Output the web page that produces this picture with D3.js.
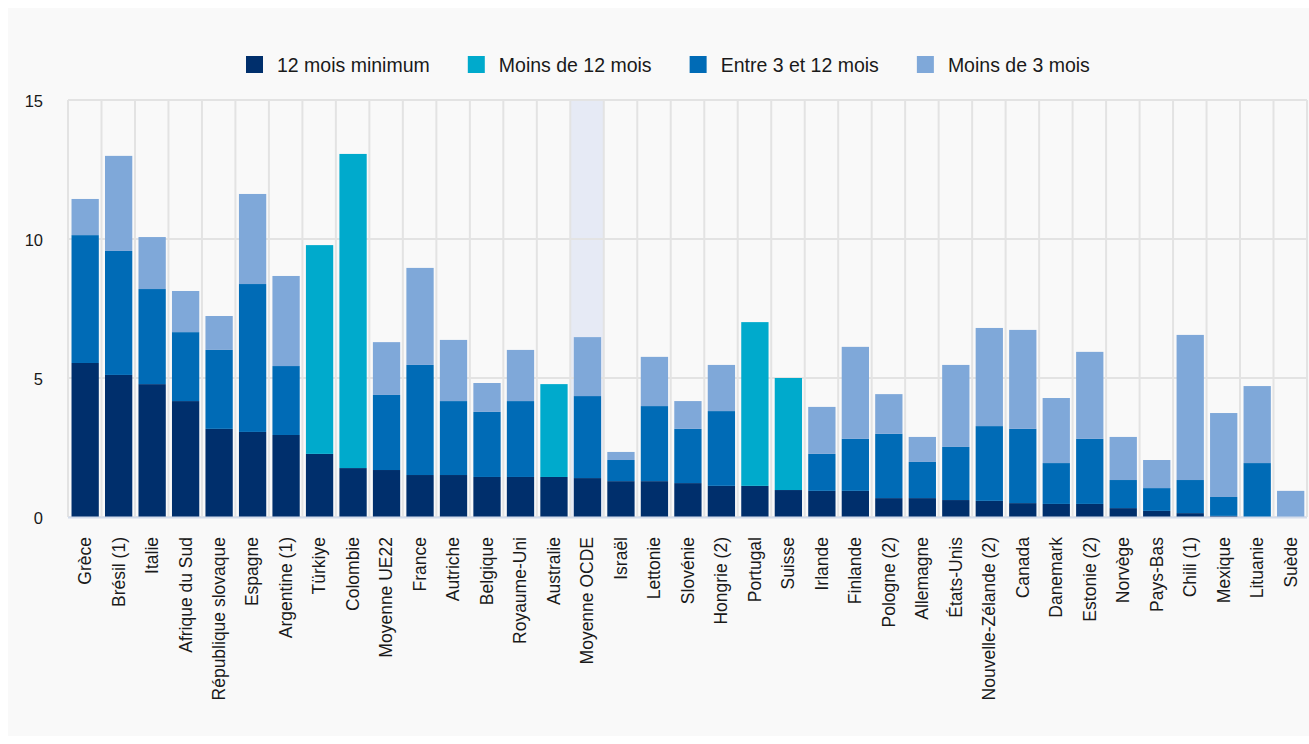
<!DOCTYPE html>
<html lang="fr">
<head>
<meta charset="utf-8">
<script src="https://cdn.jsdelivr.net/npm/d3@7"></script>
<style>
  html, body { margin: 0; padding: 0; background: #ffffff; }
  svg { display: block; font-family: "Liberation Sans", Arial, sans-serif; }
</style>
</head>
<body>
<svg id="chart" width="1309" height="744"></svg>
<script>
// Pays et moyennes, dans l'ordre d'affichage
const categories = [
  "Grèce", "Brésil (1)", "Italie", "Afrique du Sud", "République slovaque",
  "Espagne", "Argentine (1)", "Türkiye", "Colombie", "Moyenne UE22",
  "France", "Autriche", "Belgique", "Royaume-Uni", "Australie",
  "Moyenne OCDE", "Israël", "Lettonie", "Slovénie", "Hongrie (2)",
  "Portugal", "Suisse", "Irlande", "Finlande", "Pologne (2)",
  "Allemagne", "États-Unis", "Nouvelle-Zélande (2)", "Canada", "Danemark",
  "Estonie (2)", "Norvège", "Pays-Bas", "Chili (1)", "Mexique",
  "Lituanie", "Suède"
];

// Durée du chômage, en % de la population active
const douzeMoisMin = [
  5.54, 5.11, 4.78, 4.17, 3.17, 3.06, 2.95, 2.27, 1.76, 1.69,
  1.51, 1.51, 1.44, 1.44, 1.44, 1.40, 1.29, 1.29, 1.22, 1.12,
  1.12, 0.97, 0.94, 0.94, 0.68, 0.68, 0.61, 0.58, 0.50, 0.47,
  0.47, 0.32, 0.22, 0.14, 0.04, 0, 0
];
const moinsDe12Mois = [
  0, 0, 0, 0, 0, 0, 0, 7.51, 11.30, 0,
  0, 0, 0, 0, 3.34, 0, 0, 0, 0, 0,
  5.89, 4.03, 0, 0, 0, 0, 0, 0, 0, 0,
  0, 0, 0, 0, 0, 0, 0
];
const entre3et12Mois = [
  4.60, 4.46, 3.42, 2.48, 2.84, 5.32, 2.48, 0, 0, 2.70,
  3.96, 2.66, 2.34, 2.73, 0, 2.95, 0.76, 2.70, 1.95, 2.69,
  0, 0, 1.33, 1.87, 2.31, 1.30, 1.91, 2.69, 2.67, 1.47,
  2.34, 1.01, 0.82, 1.19, 0.68, 1.94, 0
];
const moinsDe3Mois = [
  1.30, 3.42, 1.87, 1.48, 1.22, 3.24, 3.24, 0, 0, 1.90,
  3.49, 2.20, 1.04, 1.84, 0, 2.12, 0.29, 1.77, 1.00, 1.66,
  0, 0, 1.69, 3.31, 1.43, 0.90, 2.95, 3.53, 3.56, 2.34,
  3.13, 1.55, 1.01, 5.22, 3.02, 2.77, 0.94
];

const yTicks = [0, 5, 10, 15];
const highlighted = "Moyenne OCDE";

const seriesDefs = [
  { key: "douzeMoisMin",   label: "12 mois minimum",  values: douzeMoisMin,   color: "#002F6C" },
  { key: "moinsDe12Mois",  label: "Moins de 12 mois", values: moinsDe12Mois,  color: "#00AACC" },
  { key: "entre3et12Mois", label: "Entre 3 et 12 mois", values: entre3et12Mois, color: "#006BB6" },
  { key: "moinsDe3Mois",   label: "Moins de 3 mois",  values: moinsDe3Mois,   color: "#7FA8D9" }
];

const rows = categories.map((c, i) => {
  const r = { category: c };
  seriesDefs.forEach(s => { r[s.key] = s.values[i]; });
  return r;
});

const svg = d3.select("#chart");
const W = 1309, H = 744;
const plot = { left: 68, right: 1307, top: 100, bottom: 517 };

// Fond de la carte
svg.append("rect")
  .attr("x", 8).attr("y", 8)
  .attr("width", W - 8).attr("height", 728)
  .attr("fill", "#F9F9F9");

const x = d3.scaleBand()
  .domain(categories)
  .range([plot.left, plot.right])
  .padding(0);

const y = d3.scaleLinear()
  .domain([0, 15])
  .range([plot.bottom, plot.top]);

// Bande de mise en évidence
svg.append("rect")
  .attr("x", x(highlighted))
  .attr("y", plot.top)
  .attr("width", x.bandwidth())
  .attr("height", plot.bottom - plot.top)
  .attr("fill", "#E6EAF5");

// Quadrillage horizontal
const grid = svg.append("g").attr("class", "grid");
grid.selectAll("line.h")
  .data(yTicks)
  .join("line")
  .attr("class", "h")
  .attr("x1", plot.left).attr("x2", plot.right)
  .attr("y1", d => y(d)).attr("y2", d => y(d))
  .attr("stroke", "#E3E3E3")
  .attr("stroke-width", 2);

// Quadrillage vertical aux limites des catégories
const edges = categories.map(c => x(c)).concat([x(categories[categories.length - 1]) + x.bandwidth()]);
grid.selectAll("line.v")
  .data(edges)
  .join("line")
  .attr("class", "v")
  .attr("x1", d => d).attr("x2", d => d)
  .attr("y1", plot.top).attr("y2", plot.bottom)
  .attr("stroke", "#E3E3E3")
  .attr("stroke-width", 2);

// Barres empilées
const stack = d3.stack().keys(seriesDefs.map(s => s.key));
const stacked = stack(rows);
const barOffset = x.bandwidth() * 0.105;
const barWidth = x.bandwidth() * 0.815;

svg.append("g").attr("class", "bars")
  .selectAll("g")
  .data(stacked)
  .join("g")
  .attr("fill", (d, i) => seriesDefs[i].color)
  .selectAll("rect")
  .data(d => d)
  .join("rect")
  .attr("x", d => x(d.data.category) + barOffset)
  .attr("width", barWidth)
  .attr("y", d => y(d[1]))
  .attr("height", d => Math.max(0, y(d[0]) - y(d[1])));

// Ligne de base
svg.append("line")
  .attr("x1", plot.left).attr("x2", plot.right)
  .attr("y1", y(0) + 0.5).attr("y2", y(0) + 0.5)
  .attr("stroke", "#D3DCEB")
  .attr("stroke-width", 2);

// Axe vertical
const yAxis = d3.axisLeft(y).tickValues(yTicks).tickSize(0).tickPadding(0);
const yG = svg.append("g")
  .attr("transform", `translate(43,0)`)
  .call(yAxis);
yG.select(".domain").remove();
yG.selectAll("text")
  .attr("font-size", 16.5)
  .attr("fill", "#1A1A1A")
  .attr("font-family", "Liberation Sans, Arial, sans-serif")
  .attr("dy", "0.42em");

// Axe horizontal : libellés verticaux
const xAxis = d3.axisBottom(x).tickSize(0).tickPadding(0);
const xG = svg.append("g")
  .attr("transform", `translate(0,537)`)
  .call(xAxis);
xG.select(".domain").remove();
xG.selectAll("text")
  .attr("font-size", 17.5)
  .attr("fill", "#1A1A1A")
  .attr("font-family", "Liberation Sans, Arial, sans-serif")
  .attr("text-anchor", "end")
  .attr("transform", "rotate(-90)")
  .attr("x", 0)
  .attr("y", 0)
  .attr("dy", "0.36em");

// Légende
const legend = svg.append("g").attr("class", "legend");
let lx = 246;
seriesDefs.forEach(s => {
  const item = legend.append("g").attr("transform", `translate(${lx},56)`);
  item.append("rect")
    .attr("width", 17).attr("height", 17)
    .attr("fill", s.color);
  const t = item.append("text")
    .attr("x", 31)
    .attr("y", 8.5)
    .attr("dy", "0.36em")
    .attr("font-size", 19.5)
    .attr("fill", "#1A1A1A")
    .text(s.label);
  lx += 31 + t.node().getComputedTextLength() + 38;
});
</script>
</body>
</html>
